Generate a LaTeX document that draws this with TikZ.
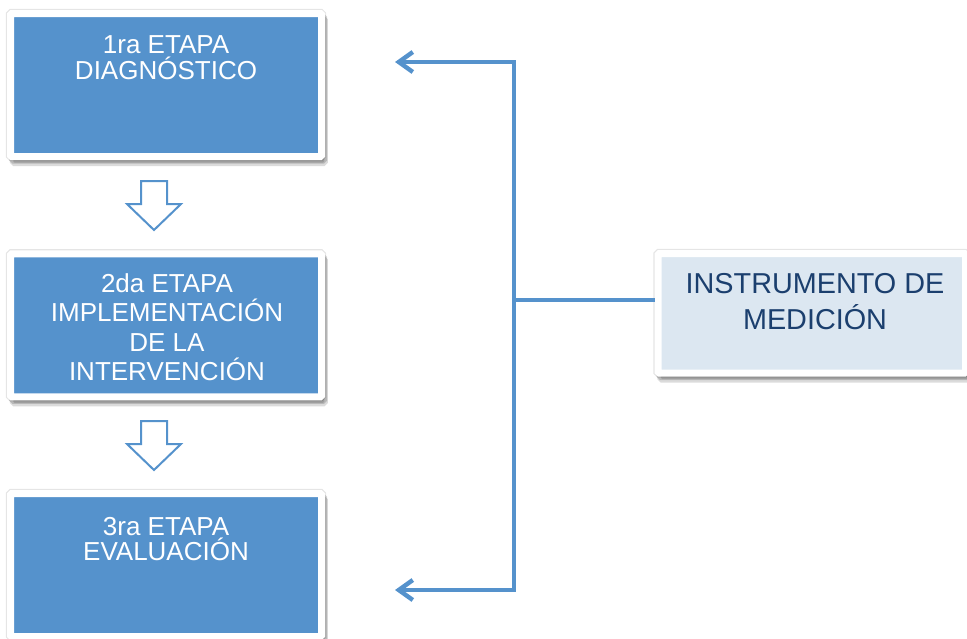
\documentclass[tikz,border=0pt]{standalone}
\usepackage{fontspec}
\setmainfont{Liberation Sans}
\usetikzlibrary{arrows.meta,shadows}
\definecolor{etapablue}{HTML}{5592CC}
\definecolor{medblue}{HTML}{DCE7F1}
\definecolor{medtext}{HTML}{1B3F6E}
\begin{document}
\begin{tikzpicture}[x=0.5pt,y=-0.5pt,line join=miter,
  etapa/.style={draw=white,line width=3.5pt,fill=etapablue,rounded corners=0.6pt,inner sep=0pt,
    minimum width=155.5pt,minimum height=71.5pt,
    general shadow={shadow xshift=0pt,shadow yshift=0pt,opacity=.10,fill=black,draw=black,line width=4.6pt},
    drop shadow={shadow xshift=1.4pt,shadow yshift=-3pt,opacity=.14,fill=black,draw=black,line width=3.5pt},
    drop shadow={shadow xshift=1.1pt,shadow yshift=-1.8pt,opacity=.16,fill=black,draw=black,line width=3.5pt}},
  etapatext/.style={anchor=north,inner sep=0pt,align=center,text=white},
  paso/.style={draw=etapablue,fill=white,line width=1pt},
  enlace/.style={draw=etapablue,line width=2.2pt}]

\useasboundingbox (0,0) rectangle (967,638);

\coordinate (j1) at (514,62);
\coordinate (j2) at (514,300);
\coordinate (j3) at (514,590);
\coordinate (p1) at (395,62);
\coordinate (p3) at (395,590);

\node[etapa] (e1) at (166,85) {};
\node[etapa] (e2) at (166,325.25) {};
\node[etapa] (e3) at (166,565) {};
\node[etapa,fill=medblue,minimum width=153.75pt,minimum height=59.75pt] (med) at (811.75,313.25) {};

\node[etapatext,font=\fontsize{13}{13}\selectfont] (t1) at (166,35) {1ra ETAPA\\DIAGNÓSTICO};
\node[etapatext,font=\fontsize{13}{14.7}\selectfont] (t2) at (167,273) {2da ETAPA\\IMPLEMENTACIÓN\\DE LA\\INTERVENCIÓN};
\node[etapatext,font=\fontsize{13}{12.5}\selectfont] (t3) at (166,517) {3ra ETAPA\\EVALUACIÓN};
\node[etapatext,text=medtext,font=\fontsize{14.4}{18}\selectfont] (tm) at (815,273) {INSTRUMENTO DE\\MEDICIÓN};

% flechas entre etapas
\draw[paso] (141,181) -- (167,181) -- (167,204) -- (181,204) -- (154,230) -- (127,204) -- (141,204) -- cycle;
\draw[paso] (141,421) -- (167,421) -- (167,444) -- (181,444) -- (154,470) -- (127,444) -- (141,444) -- cycle;

% instrumento hacia etapas 1 y 3
\draw[enlace,{Straight Barb[length=7pt,width=10pt]}-{Straight Barb[length=7pt,width=10pt]}] (p1) -- (j1) -- (j3) -- (p3);
\draw[enlace] (j2) -- (j2 -| med.west);
\end{tikzpicture}
\end{document}
